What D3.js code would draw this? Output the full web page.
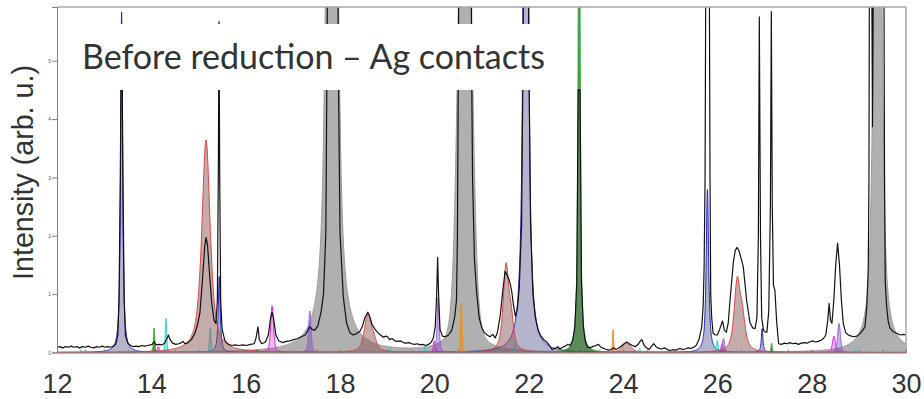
<!DOCTYPE html>
<html><head><meta charset="utf-8">
<script src="https://cdn.jsdelivr.net/npm/d3@7/dist/d3.min.js"></script>
<style>body{margin:0;background:#fff}svg{display:block}</style>
</head><body>
<svg id="chart" width="924" height="399"></svg>
<script>
// ---------------- DATA ----------------
const xTicks = [12, 14, 16, 18, 20, 22, 24, 26, 28, 30];
const xMinorTicks = [12,12.5,13,13.5,14,14.5,15,15.5,16,16.5,17,17.5,18,18.5,19,19.5,20,20.5,21,21.5,22,22.5,23,23.5,24,24.5,25,25.5,26,26.5,27,27.5,28,28.5,29,29.5,30];
const yTicks = [0, 1, 2, 3, 4, 5];
const titleText = "Before reduction \u2013 Ag contacts";
const yLabel = "Intensity (arb. u.)";

// measured pattern [2theta, intensity]
const observed = [[12.00,0.09],[12.06,0.10],[12.12,0.08],[12.18,0.10],[12.24,0.09],[12.30,0.11],[12.36,0.09],[12.42,0.10],[12.48,0.08],[12.54,0.10],[12.60,0.09],[12.66,0.11],[12.72,0.09],[12.78,0.08],[12.84,0.10],[12.90,0.09],[12.96,0.11],[13.02,0.09],[13.08,0.10],[13.14,0.09],[13.20,0.11],[13.25,0.15],[13.29,0.3],[13.315,0.9],[13.34,2.8],[13.36,5.0],[13.38,5.0],[13.40,2.8],[13.425,0.9],[13.45,0.3],[13.5,0.16],[13.56,0.12],[13.62,0.10],[13.68,0.11],[13.74,0.10],[13.80,0.12],[13.86,0.11],[13.92,0.12],[13.98,0.13],[14.02,0.14],[14.06,0.19],[14.10,0.13],[14.16,0.14],[14.22,0.13],[14.28,0.16],[14.33,0.24],[14.36,0.30],[14.40,0.22],[14.45,0.16],[14.52,0.14],[14.58,0.15],[14.64,0.17],[14.67,0.19],[14.71,0.15],[14.78,0.17],[14.85,0.22],[14.92,0.32],[14.98,0.48],[15.03,0.68],[15.08,1.2],[15.13,1.8],[15.16,1.97],[15.19,1.85],[15.23,1.4],[15.28,0.85],[15.33,0.55],[15.37,0.5],[15.40,0.9],[15.42,3.0],[15.435,5.67],[15.45,3.0],[15.47,0.9],[15.50,0.4],[15.56,0.2],[15.62,0.15],[15.70,0.12],[15.78,0.13],[15.86,0.12],[15.94,0.13],[16.02,0.12],[16.10,0.14],[16.18,0.15],[16.22,0.25],[16.26,0.44],[16.29,0.22],[16.34,0.15],[16.42,0.18],[16.48,0.3],[16.53,0.6],[16.56,0.69],[16.59,0.6],[16.64,0.3],[16.70,0.2],[16.78,0.17],[16.86,0.19],[16.94,0.2],[17.02,0.22],[17.10,0.24],[17.18,0.27],[17.26,0.3],[17.32,0.38],[17.36,0.44],[17.40,0.4],[17.46,0.38],[17.53,0.45],[17.60,0.7],[17.65,1.0],[17.70,2.05],[17.72,4.5],[17.74,8],[17.95,8],[17.97,4.5],[18.0,2.05],[18.07,0.95],[18.14,0.5],[18.21,0.34],[18.28,0.3],[18.34,0.32],[18.42,0.36],[18.48,0.46],[18.53,0.6],[18.59,0.69],[18.63,0.62],[18.68,0.48],[18.74,0.4],[18.80,0.34],[18.86,0.3],[18.92,0.26],[18.97,0.28],[19.01,0.27],[19.05,0.22],[19.10,0.24],[19.16,0.2],[19.22,0.19],[19.28,0.2],[19.34,0.17],[19.40,0.16],[19.46,0.17],[19.52,0.15],[19.58,0.14],[19.64,0.15],[19.70,0.13],[19.76,0.14],[19.82,0.12],[19.88,0.14],[19.93,0.17],[19.98,0.25],[20.02,0.45],[20.05,1.0],[20.07,1.63],[20.09,1.0],[20.12,0.4],[20.17,0.28],[20.24,0.27],[20.30,0.3],[20.37,0.38],[20.43,0.6],[20.47,0.9],[20.49,2.0],[20.51,5.0],[20.52,8],[20.78,8],[20.79,5.0],[20.81,3.0],[20.85,1.6],[20.90,1.0],[20.95,0.6],[21.0,0.44],[21.06,0.34],[21.12,0.3],[21.18,0.27],[21.24,0.31],[21.29,0.25],[21.34,0.35],[21.40,0.65],[21.45,1.05],[21.50,1.39],[21.55,1.32],[21.60,1.21],[21.64,1.05],[21.68,0.8],[21.72,0.62],[21.76,0.75],[21.80,1.1],[21.85,2.2],[21.88,5.0],[21.895,8],[21.99,8],[22.005,5.0],[22.04,2.2],[22.09,1.0],[22.14,0.6],[22.20,0.38],[22.26,0.28],[22.32,0.22],[22.38,0.18],[22.44,0.12],[22.50,0.05],[22.56,0.07],[22.62,0.10],[22.66,0.06],[22.72,0.09],[22.78,0.11],[22.83,0.14],[22.88,0.12],[22.93,0.2],[22.98,0.44],[23.02,1.2],[23.05,4.5],[23.09,4.5],[23.12,1.2],[23.16,0.44],[23.20,0.2],[23.24,0.1],[23.30,0.08],[23.36,0.1],[23.42,0.12],[23.48,0.14],[23.52,0.1],[23.56,0.08],[23.62,0.06],[23.69,0.04],[23.75,0.05],[23.80,0.08],[23.85,0.05],[23.92,0.08],[23.98,0.12],[24.04,0.16],[24.08,0.18],[24.13,0.15],[24.20,0.12],[24.26,0.1],[24.32,0.14],[24.37,0.2],[24.40,0.22],[24.45,0.12],[24.50,0.08],[24.55,0.05],[24.60,0.1],[24.65,0.15],[24.70,0.1],[24.76,0.07],[24.82,0.06],[24.88,0.08],[24.94,0.05],[25.00,0.03],[25.06,0.05],[25.12,0.04],[25.18,0.06],[25.21,0.07],[25.26,0.05],[25.32,0.06],[25.38,0.08],[25.44,0.07],[25.50,0.09],[25.55,0.12],[25.61,0.22],[25.67,0.44],[25.70,0.8],[25.72,1.47],[25.74,3],[25.755,6.5],[25.83,6.5],[25.845,3],[25.86,1.0],[25.88,0.6],[25.91,0.33],[25.96,0.3],[26.00,0.3],[26.05,0.4],[26.11,0.54],[26.15,0.38],[26.19,0.35],[26.23,0.5],[26.27,0.9],[26.34,1.55],[26.38,1.75],[26.42,1.80],[26.46,1.74],[26.50,1.62],[26.55,1.47],[26.62,0.9],[26.69,0.52],[26.75,0.42],[26.80,0.41],[26.84,0.6],[26.87,2.0],[26.89,5.75],[26.915,2.0],[26.94,0.6],[26.98,0.38],[27.02,0.35],[27.05,0.35],[27.09,0.7],[27.125,2.5],[27.145,5.84],[27.165,2.5],[27.19,1.15],[27.22,1.07],[27.26,0.5],[27.30,0.15],[27.36,0.14],[27.42,0.16],[27.48,0.15],[27.54,0.17],[27.60,0.15],[27.66,0.16],[27.72,0.14],[27.78,0.16],[27.84,0.17],[27.90,0.16],[27.96,0.18],[28.02,0.2],[28.08,0.18],[28.14,0.19],[28.20,0.21],[28.25,0.24],[28.30,0.3],[28.34,0.55],[28.37,0.84],[28.40,0.55],[28.43,0.5],[28.47,0.9],[28.51,1.5],[28.55,1.87],[28.59,1.5],[28.63,0.9],[28.67,0.5],[28.72,0.34],[28.78,0.3],[28.84,0.28],[28.90,0.27],[28.96,0.28],[29.02,0.32],[29.08,0.38],[29.13,0.44],[29.17,0.8],[29.20,1.47],[29.215,3],[29.225,7],[29.27,7],[29.29,3.87],[29.31,7],[29.53,7],[29.545,3],[29.56,1.2],[29.59,0.78],[29.62,0.55],[29.66,0.42],[29.72,0.36],[29.80,0.33],[29.88,0.3],[29.95,0.31],[30.0,0.3]];

// phase peaks: [2theta, height, fwhm, lorentzian fraction]
const grayPeaks    = [[17.83, 20, 0.20, 0.6], [20.65, 12, 0.28, 0.2], [29.40, 14, 0.16, 0.6]];
const bluePeaks    = [[13.37, 5.87, 0.05, 0.9], [15.44, 1.30, 0.05, 0.9], [21.94, 40, 0.055, 0.9], [25.79, 2.8, 0.06, 0.9], [26.95, 0.41, 0.04, 0.9]];
const greenPeaks   = [[14.06, 0.42, 0.03, 0.7], [16.25, 0.06, 0.03, 0.7], [23.07, 11.7, 0.04, 0.9], [27.15, 0.16, 0.03, 0.7]];
const cyanPeaks    = [[12.60, 0.05, 0.04, 0.5], [14.31, 0.59, 0.035, 0.5], [15.25, 0.42, 0.04, 0.5], [19.05, 0.06, 0.03, 0.5], [19.80, 0.11, 0.03, 0.5], [21.70, 0.18, 0.03, 0.5], [24.35, 0.07, 0.04, 0.5], [26.00, 0.21, 0.04, 0.5], [28.92, 0.07, 0.04, 0.5]];
const magentaPeaks = [[14.15, 0.10, 0.05, 0.5], [16.56, 0.80, 0.07, 0.6], [20.00, 0.20, 0.05, 0.5], [26.10, 0.15, 0.05, 0.5], [28.47, 0.28, 0.07, 0.5]];
const purplePeaks  = [[17.36, 0.71, 0.06, 0.6], [20.08, 0.94, 0.05, 0.6], [26.13, 0.24, 0.06, 0.5], [28.58, 0.50, 0.07, 0.5]];
const orangePeaks  = [[20.57, 0.84, 0.04, 0.5], [23.79, 0.40, 0.025, 0.5]];
const redPeaks     = [[15.16, 3.64, 0.21, 0.75], [18.59, 0.62, 0.18, 0.6], [18.72, 0.15, 0.15, 0.6], [21.52, 1.45, 0.14, 0.7], [21.63, 0.45, 0.12, 0.7], [24.08, 0.17, 0.20, 0.5], [26.42, 1.15, 0.15, 0.7], [26.53, 0.50, 0.15, 0.7]];

// ---------------- STYLE / LAYOUT ----------------
const phaseStyles = [
  {peaks: grayPeaks,    fill: "#b0b0b0", op: 1.0,  stroke: "#9a9a9a"},
  {peaks: bluePeaks,    fill: "#6a6a9a", op: 0.5,  stroke: "#2828c0"},
  {peaks: greenPeaks,   fill: "#2f6f2f", op: 0.8,  stroke: "#3caa3c"},
  {peaks: cyanPeaks,    fill: "#40c8c8", op: 0.45, stroke: "#30d0d0"},
  {peaks: magentaPeaks, fill: "#c040c0", op: 0.35, stroke: "#e020e0"},
  {peaks: purplePeaks,  fill: "#7040b0", op: 0.4,  stroke: "#a060e0"},
  {peaks: orangePeaks,  fill: "#e89030", op: 0.8,  stroke: "#f09020"},
  {peaks: redPeaks,     fill: "#8a5a5a", op: 0.5,  stroke: "#e04040"}
];

const svg = d3.select("#chart");
const L = 57, R = 906, T = 7, B = 352.5;
const x = d3.scaleLinear().domain([12, 30]).range([L, R]);
const y = d3.scaleLinear().domain([0, 5.92]).range([B, T]);

svg.append("defs").append("clipPath").attr("id", "plotclip")
  .append("rect").attr("x", L).attr("y", T).attr("width", R - L).attr("height", B - T);

const plot = svg.append("g").attr("clip-path", "url(#plotclip)");

function pv(t, p) {
  const u = 2 * (t - p[0]) / p[2];
  const lor = 1 / (1 + u * u);
  const gau = Math.exp(-Math.LN2 * u * u);
  return p[1] * (p[3] * lor + (1 - p[3]) * gau);
}
const grid = d3.range(12, 30.0001, 0.004);

const area = d3.area().x(d => x(d[0])).y0(y(0)).y1(d => y(Math.min(d[1], 7)));
const line = d3.line().x(d => x(d[0])).y(d => y(Math.min(d[1], 7)));

phaseStyles.forEach(ph => {
  const prof = grid.map(t => [t, d3.sum(ph.peaks, p => pv(t, p))]);
  plot.append("path").datum(prof).attr("d", area)
    .attr("fill", ph.fill).attr("fill-opacity", ph.op).attr("stroke", "none");
  plot.append("path").datum(prof).attr("d", line)
    .attr("fill", "none").attr("stroke", ph.stroke).attr("stroke-width", 1);
});

plot.append("path").datum(observed).attr("d", line)
  .attr("fill", "none").attr("stroke", "#111").attr("stroke-width", 1.2)
  .attr("stroke-linejoin", "round");

// frame
svg.append("line").attr("x1", L).attr("x2", R).attr("y1", T).attr("y2", T).attr("stroke", "#a8a8a8").attr("stroke-width", 1.5);
svg.append("line").attr("x1", R).attr("x2", R).attr("y1", T).attr("y2", B).attr("stroke", "#a8a8a8").attr("stroke-width", 1.5);

// axes
const xMinor = svg.append("g").attr("transform", `translate(0,${B})`)
  .call(d3.axisBottom(x).tickValues(xMinorTicks).tickSize(-3).tickFormat(""));
xMinor.select(".domain").attr("stroke", "#808080");
xMinor.selectAll(".tick line").attr("stroke", "#808080");

const xMajor = svg.append("g").attr("transform", `translate(0,${B})`)
  .call(d3.axisBottom(x).tickValues(xTicks).tickSize(0).tickPadding(21.3).tickFormat(d3.format("d")));
xMajor.select(".domain").remove();
xMajor.selectAll("text").attr("font-family", "'Liberation Sans', Arial, sans-serif")
  .attr("font-size", 27).attr("fill", "#333");

const yAx = svg.append("g").attr("transform", `translate(${L},0)`)
  .call(d3.axisLeft(y).tickValues(yTicks).tickSize(5).tickPadding(1).tickFormat(d3.format("d")));
yAx.select(".domain").attr("stroke", "#808080");
yAx.selectAll(".tick line").attr("stroke", "#808080");
yAx.selectAll("text").attr("font-size", 5).attr("fill", "#555");

// y label
const yl = svg.append("text").attr("transform", "translate(33,172.5) rotate(-90)")
  .attr("text-anchor", "middle").attr("font-family", "'Liberation Sans', Arial, sans-serif")
  .attr("font-size", 28).attr("fill", "#333").text(yLabel);
const ylen = yl.node().getComputedTextLength();
yl.attr("font-size", 28 * 215 / ylen);

// title box
svg.append("rect").attr("x", 68).attr("y", 24).attr("width", 496).attr("height", 66).attr("fill", "#fff");
const tt = svg.append("text").attr("x", 82).attr("y", 69)
  .attr("font-family", "Lato, 'Open Sans', sans-serif").attr("font-size", 32).attr("fill", "#333").text(titleText);
const tlen = tt.node().getComputedTextLength();
tt.attr("font-size", 32 * 463 / tlen);
</script>
</body></html>
